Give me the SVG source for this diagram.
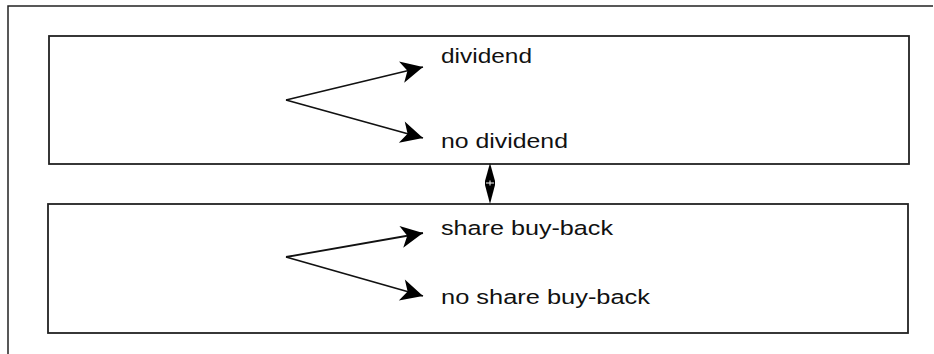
<svg xmlns="http://www.w3.org/2000/svg" width="934" height="354" viewBox="0 0 934 354">
<style>
.frame{fill:none;stroke:#222;stroke-width:1.5}
.box{fill:#fff;stroke:#222;stroke-width:1.8}
.conn{fill:none;stroke:#111;stroke-width:1.8}
.lbl{font-family:"Liberation Sans",Arial,sans-serif;font-size:20.5px;fill:#111}
</style>
<defs>
<marker id="ah" viewBox="-24 -12 26 24" refX="0" refY="0" markerWidth="26" markerHeight="24" markerUnits="userSpaceOnUse" orient="auto">
<path d="M0,0 L-22,-11 L-16,0 L-22,11 Z" fill="#000"/>
</marker>
</defs>
<rect width="934" height="354" fill="#fff"/>
<path class="frame" d="M8,354 V6 H933"/>
<g id="node-dividend-box">
<rect class="box" x="49" y="36" width="860" height="128"/>
</g>
<g id="node-buyback-box">
<rect class="box" x="48" y="204" width="860" height="129"/>
</g>
<g id="node-dividend">
<text class="lbl" x="441" y="63" textLength="91" lengthAdjust="spacingAndGlyphs">dividend</text>
</g>
<g id="node-no-dividend">
<text class="lbl" x="441" y="148" textLength="127" lengthAdjust="spacingAndGlyphs">no dividend</text>
</g>
<g id="node-share-buyback">
<text class="lbl" x="441" y="235" textLength="172" lengthAdjust="spacingAndGlyphs">share buy-back</text>
</g>
<g id="node-no-share-buyback">
<text class="lbl" x="441" y="304" textLength="209" lengthAdjust="spacingAndGlyphs">no share buy-back</text>
</g>
<g id="connectors">
<line class="conn" x1="286" y1="100" x2="423" y2="67" marker-end="url(#ah)"/>
<line class="conn" x1="286" y1="100" x2="423" y2="138" marker-end="url(#ah)"/>
<line class="conn" x1="286" y1="257" x2="423" y2="233" marker-end="url(#ah)"/>
<line class="conn" x1="286" y1="257" x2="423" y2="296" marker-end="url(#ah)"/>
<g id="double-arrow">
<polygon points="490,163 495,181 485,181" fill="#000"/>
<polygon points="490,204 495,185 485,185" fill="#000"/>
<rect x="485" y="181" width="10" height="4" fill="#000"/>
<path d="M486,183 H494 M490,180.5 V185.5" stroke="#fff" stroke-width="1"/>
</g>
</g>
</svg>
